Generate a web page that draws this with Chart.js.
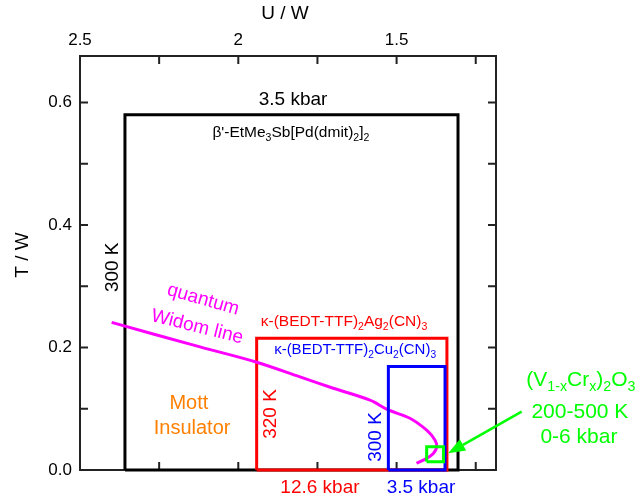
<!DOCTYPE html>
<html lang="en">
<head>
<meta charset="UTF-8">
<title>T/W vs U/W - Mott insulators</title>
<script src="https://cdn.jsdelivr.net/npm/chart.js@4.4.0/dist/chart.umd.min.js"></script>
<style>
    html, body { margin: 0; padding: 0; background: #fff; }
    #wrap { width: 639px; height: 502px; }
</style>
</head>
<body>
<div id="wrap"><canvas id="phase" width="639" height="502"></canvas></div>
<script>
// axes
var xMin = 1.186, xMax = 2.5;
var yMin = 0, yMax = 0.676;
var xTicks = [2.5, 2.25, 2, 1.75, 1.5, 1.25];
var xTickLabels = ['2.5', '', '2', '', '1.5', ''];
var yTicks = [0, 0.1, 0.2, 0.3, 0.4, 0.5, 0.6];
var yTickLabels = ['0.0', '', '0.2', '', '0.4', '', '0.6'];

// boxes: [U/W left, U/W right, T/W bottom, T/W top]
var etmeBox = [2.358, 1.306, 0, 0.580];
var agBox = [1.942, 1.341, 0, 0.215];
var cuBox = [1.526, 1.347, 0, 0.169];
var vcrBox = [1.405, 1.352, 0.0136, 0.038];

// quantum Widom line
var widomU = [2.400, 2.121, 1.942, 1.805, 1.700, 1.584, 1.526, 1.458, 1.405, 1.379, 1.373, 1.384, 1.405, 1.437];
var widomT = [0.241, 0.201, 0.176, 0.152, 0.1335, 0.114, 0.098, 0.0845, 0.065, 0.049, 0.038, 0.027, 0.019, 0.011];

var FONT = 'Arial, "Liberation Sans", sans-serif';

function boxPoints(b) {
    return [
        {x: b[0], y: b[2]}, {x: b[0], y: b[3]}, {x: b[1], y: b[3]},
        {x: b[1], y: b[2]}, {x: b[0], y: b[2]}
    ];
}

function boxSet(b, color, order) {
    return {
        data: boxPoints(b), showLine: true, borderColor: color, borderWidth: 3,
        pointRadius: 0, tension: 0, clip: false, order: order, borderJoinStyle: 'miter'
    };
}

// text labels, in data coordinates; parts = [text, subscript?]
var notes = [
    {parts: [['3.5 kbar']], u: 1.827, t: 0.604, color: '#000', size: 19},
    {parts: [["\u03b2'-EtMe"], ['3', 1], ['Sb[Pd(dmit)'], ['2', 1], [']'], ['2', 1]], u: 1.834, t: 0.550, color: '#000', size: 15.5},
    {parts: [['300 K']], u: 2.396, t: 0.331, color: '#000', size: 19, rot: -90},
    {parts: [['quantum']], u: 2.111, t: 0.278, color: '#ff00ff', size: 19, rot: 16},
    {parts: [['Widom line']], u: 2.130, t: 0.2335, color: '#ff00ff', size: 19, rot: 14},
    {parts: [['\u03ba-(BEDT-TTF)'], ['2', 1], ['Ag'], ['2', 1], ['(CN)'], ['3', 1]], u: 1.666, t: 0.2417, color: '#ff0000', size: 15.5},
    {parts: [['\u03ba-(BEDT-TTF)'], ['2', 1], ['Cu'], ['2', 1], ['(CN)'], ['3', 1]], u: 1.631, t: 0.196, color: '#0000ff', size: 15},
    {parts: [['Mott']], u: 2.156, t: 0.109, color: '#ff8000', size: 20},
    {parts: [['Insulator']], u: 2.146, t: 0.0686, color: '#ff8000', size: 20},
    {parts: [['320 K']], u: 1.897, t: 0.0914, color: '#ff0000', size: 19, rot: -90},
    {parts: [['300 K']], u: 1.565, t: 0.0539, color: '#0000ff', size: 19, rot: -90},
    {parts: [['12.6 kbar']], u: 1.742, t: -0.0294, color: '#ff0000', size: 19},
    {parts: [['3.5 kbar']], u: 1.423, t: -0.0294, color: '#0000ff', size: 19},
    {parts: [['(V'], ['1-x', 1], ['Cr'], ['x', 1], [')'], ['2', 1], ['O'], ['3', 1]], u: 0.918, t: 0.147, color: '#00ff00', size: 21},
    {parts: [['200-500 K']], u: 0.921, t: 0.0947, color: '#00ff00', size: 21},
    {parts: [['0-6 kbar']], u: 0.924, t: 0.0539, color: '#00ff00', size: 21}
];
var arrowFrom = {u: 1.105, t: 0.0952};
var arrowTo = {u: 1.337, t: 0.0273};

function drawParts(ctx, parts, size) {
    var sub = size * 0.68;
    var total = 0;
    parts.forEach(function (p) {
        ctx.font = (p[1] ? sub : size) + 'px ' + FONT;
        total += ctx.measureText(p[0]).width;
    });
    var cx = -total / 2;
    ctx.textAlign = 'left';
    ctx.textBaseline = 'middle';
    parts.forEach(function (p) {
        ctx.font = (p[1] ? sub : size) + 'px ' + FONT;
        ctx.fillText(p[0], cx, p[1] ? size * 0.32 : 0);
        cx += ctx.measureText(p[0]).width;
    });
}

var decor = {
    id: 'decor',
    beforeDatasetsDraw: function (chart) {
        var ctx = chart.ctx, a = chart.chartArea;
        var sx = chart.scales.x, sy = chart.scales.y;
        ctx.save();
        ctx.strokeStyle = '#222';
        ctx.lineWidth = 2;
        ctx.strokeRect(a.left, a.top, a.right - a.left, a.bottom - a.top);
        ctx.beginPath();
        xTicks.forEach(function (v) {
            var px = sx.getPixelForValue(v);
            ctx.moveTo(px, a.top); ctx.lineTo(px, a.top + 8);
            ctx.moveTo(px, a.bottom); ctx.lineTo(px, a.bottom - 8);
        });
        yTicks.forEach(function (v) {
            var py = sy.getPixelForValue(v);
            ctx.moveTo(a.left, py); ctx.lineTo(a.left + 8, py);
            ctx.moveTo(a.right, py); ctx.lineTo(a.right - 8, py);
        });
        ctx.stroke();

        // axis titles
        ctx.fillStyle = '#000';
        ctx.font = '19px ' + FONT;
        ctx.textAlign = 'center';
        ctx.textBaseline = 'middle';
        ctx.fillText('U / W', (a.left + a.right) / 2 - 3, 14);
        ctx.translate(23, (a.top + a.bottom) / 2 - 8);
        ctx.rotate(-Math.PI / 2);
        ctx.fillText('T / W', 0, 0);
        ctx.restore();
    },
    afterDatasetsDraw: function (chart) {
        var ctx = chart.ctx;
        var sx = chart.scales.x, sy = chart.scales.y;
        notes.forEach(function (n) {
            ctx.save();
            ctx.fillStyle = n.color;
            ctx.translate(sx.getPixelForValue(n.u), sy.getPixelForValue(n.t));
            if (n.rot) ctx.rotate(n.rot * Math.PI / 180);
            drawParts(ctx, n.parts, n.size);
            ctx.restore();
        });

        // green arrow
        var x0 = sx.getPixelForValue(arrowFrom.u), y0 = sy.getPixelForValue(arrowFrom.t);
        var x1 = sx.getPixelForValue(arrowTo.u), y1 = sy.getPixelForValue(arrowTo.t);
        var ang = Math.atan2(y1 - y0, x1 - x0);
        var head = 17, half = 6.5;
        var bx = x1 - head * Math.cos(ang), by = y1 - head * Math.sin(ang);
        ctx.save();
        ctx.strokeStyle = '#00ff00';
        ctx.fillStyle = '#00ff00';
        ctx.lineWidth = 2.5;
        ctx.beginPath();
        ctx.moveTo(x0, y0);
        ctx.lineTo(bx, by);
        ctx.stroke();
        ctx.beginPath();
        ctx.moveTo(x1, y1);
        ctx.lineTo(bx + half * Math.sin(ang), by - half * Math.cos(ang));
        ctx.lineTo(bx - half * Math.sin(ang), by + half * Math.cos(ang));
        ctx.closePath();
        ctx.fill();
        ctx.restore();
    }
};

var widomPoints = widomU.map(function (u, i) { return {x: u, y: widomT[i]}; });

new Chart(document.getElementById('phase'), {
    type: 'scatter',
    data: {
        datasets: [
            boxSet(etmeBox, '#000000', 5),
            boxSet(agBox, '#ff0000', 4),
            boxSet(cuBox, '#0000ff', 2),
            {
                data: widomPoints, showLine: true, borderColor: '#ff00ff', borderWidth: 3,
                pointRadius: 0, tension: 0.35, clip: false, order: 3
            },
            boxSet(vcrBox, '#00ff00', 1)
        ]
    },
    options: {
        responsive: false,
        animation: false,
        devicePixelRatio: 1,
        layout: {padding: {left: 0, right: 143, top: 0, bottom: 32}},
        plugins: {legend: {display: false}, tooltip: {enabled: false}},
        scales: {
            x: {
                type: 'linear', position: 'top', reverse: true, min: xMin, max: xMax,
                afterBuildTicks: function (s) { s.ticks = xTicks.map(function (v) { return {value: v}; }); },
                afterFit: function (s) { s.height = 56; },
                grid: {display: false, drawTicks: false},
                border: {display: false},
                ticks: {
                    padding: 5, color: '#000', font: {size: 17, family: FONT}, maxRotation: 0, autoSkip: false,
                    callback: function (v) { return xTickLabels[xTicks.indexOf(v)]; }
                }
            },
            y: {
                type: 'linear', position: 'left', min: yMin, max: yMax,
                afterBuildTicks: function (s) { s.ticks = yTicks.map(function (v) { return {value: v}; }); },
                afterFit: function (s) { s.width = 80; },
                grid: {display: false, drawTicks: false},
                border: {display: false},
                ticks: {
                    padding: 8, color: '#000', font: {size: 17, family: FONT}, autoSkip: false,
                    callback: function (v) { return yTickLabels[yTicks.indexOf(v)]; }
                }
            }
        }
    },
    plugins: [decor]
});
</script>
</body>
</html>
